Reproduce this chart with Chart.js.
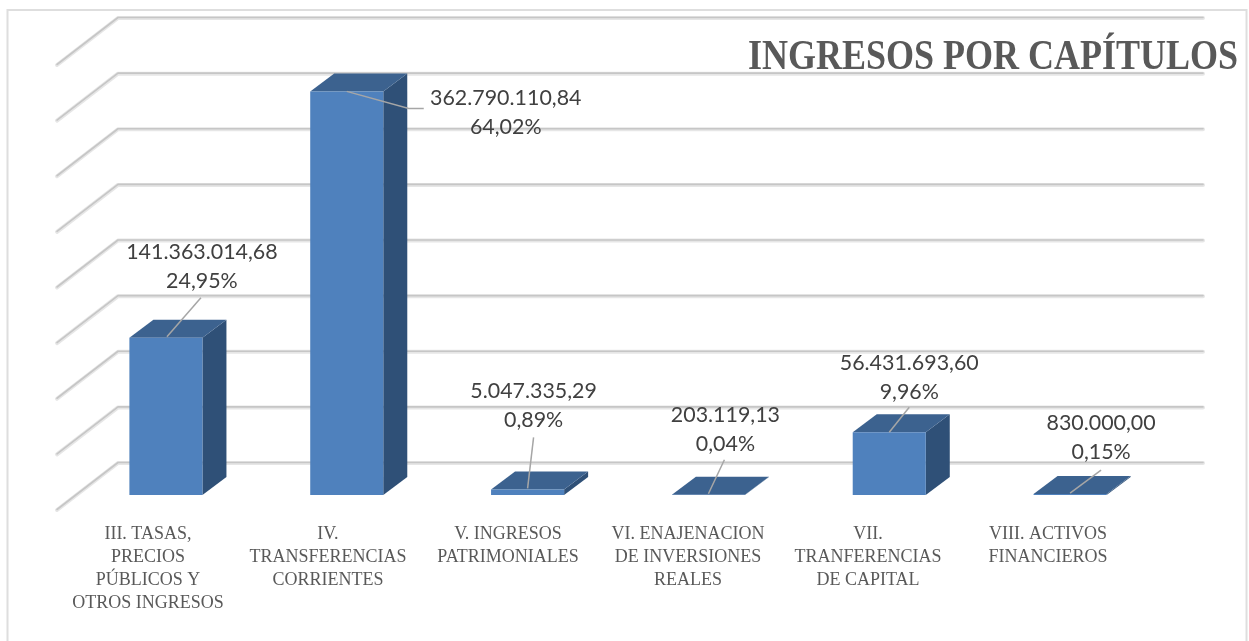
<!DOCTYPE html>
<html><head><meta charset="utf-8">
<script src="https://cdn.jsdelivr.net/npm/chart.js@4"></script>
<style>html,body{margin:0;padding:0;background:#fff}canvas{display:block}</style>
</head><body><canvas id="c" width="1249" height="641"></canvas>
<script>
const categories = [
  ["III. TASAS,","PRECIOS","PÚBLICOS Y","OTROS INGRESOS"],
  ["IV.","TRANSFERENCIAS","CORRIENTES"],
  ["V. INGRESOS","PATRIMONIALES"],
  ["VI. ENAJENACION","DE INVERSIONES","REALES"],
  ["VII.","TRANFERENCIAS","DE CAPITAL"],
  ["VIII. ACTIVOS","FINANCIEROS"]
];
const values = [141363014.68, 362790110.84, 5047335.29, 203119.13, 56431693.60, 830000.00];
const valueLabels = ["141.363.014,68","362.790.110,84","5.047.335,29","203.119,13","56.431.693,60","830.000,00"];
const percentLabels = ["24,95%","64,02%","0,89%","0,04%","9,96%","0,15%"];
const titleText = "INGRESOS POR CAPÍTULOS";

// scene layout
const BAR_DX = 24, BAR_DY = -18;        // bar depth
const WALL_DX = 42.5, WALL_DY = -32;    // bar front plane -> back wall
const FLOOR_DX = 61, FLOOR_DY = 47;     // back wall -> front edge of floor lines
const FRONT='#4f81bd', TOP='#3c628f', SIDE='#2f5077';
// label placement relative to the bar's top-centre: text centre x, line baselines, leader
const labelPlace = [
  {tx:36, ty:-79, l:[[1,-1],[35,-40]]},
  {tx:159,ty:14,  l:[[0,0],[62,17],[77,17]]},
  {tx:6,  ty:-91, l:[[0,-1],[6,-52]]},
  {tx:17, ty:-73, l:[[0,-1],[16,-35]]},
  {tx:20, ty:-62, l:[[0,0],[20,-25]]},
  {tx:31, ty:-64, l:[[0,-1],[31,-24]]}
];

const scene = {
  id:'scene',
  beforeDraw(chart){
    const {ctx,scales:{x,y},chartArea:a}=chart;
    // the axis labels sit on a slightly tighter pitch than the bars
    x.getLabelItems().forEach((it,i)=>{
      if(!it.tightened){it.options.translation[0]-=i*0.8;it.tightened=true;}
    });
    ctx.save();
    ctx.fillStyle='#fff';ctx.fillRect(0,0,chart.width,chart.height);
    ctx.strokeStyle='#dedede';ctx.lineWidth=2;
    ctx.strokeRect(7.5,10,1239,640);
    const x0=a.left+WALL_DX, x1=a.right+WALL_DX;
    ctx.lineCap='round';ctx.lineJoin='round';
    y.ticks.forEach(t=>{
      const py=y.getPixelForValue(t.value)+WALL_DY;
      [[4,'#e6e6e6',0],[1.6,'#c6c6c6',-0.5]].forEach(([w,c,o])=>{
        ctx.lineWidth=w;ctx.strokeStyle=c;
        ctx.beginPath();
        ctx.moveTo(x0-FLOOR_DX,py+FLOOR_DY+o);
        ctx.lineTo(x0,py+o);
        ctx.lineTo(x1,py+o);
        ctx.stroke();
      });
    });
    ctx.restore();
  },
  beforeDatasetsDraw(chart){
    const {ctx}=chart;
    ctx.save();
    chart.getDatasetMeta(0).data.forEach(b=>{
      const l=b.x-b.width/2,r=b.x+b.width/2,t=b.y,bt=b.base;
      ctx.fillStyle=SIDE;
      ctx.beginPath();ctx.moveTo(r,t);ctx.lineTo(r+BAR_DX,t+BAR_DY);ctx.lineTo(r+BAR_DX,bt+BAR_DY);ctx.lineTo(r,bt);ctx.closePath();ctx.fill();
      ctx.fillStyle=TOP;
      ctx.beginPath();ctx.moveTo(l,t);ctx.lineTo(l+BAR_DX,t+BAR_DY);ctx.lineTo(r+BAR_DX,t+BAR_DY);ctx.lineTo(r,t);ctx.closePath();ctx.fill();
    });
    ctx.restore();
  },
  afterDatasetsDraw(chart){
    const {ctx}=chart;
    ctx.save();
    ctx.font='21.4px Lato';ctx.fillStyle='#404040';ctx.textAlign='center';ctx.textBaseline='alphabetic';
    chart.getDatasetMeta(0).data.forEach((b,i)=>{
      const p=labelPlace[i];
      ctx.strokeStyle='#a6a6a6';ctx.lineWidth=1.5;
      ctx.beginPath();
      p.l.forEach(([dx,dy],k)=>{k?ctx.lineTo(b.x+dx,b.y+dy):ctx.moveTo(b.x+dx,b.y+dy);});
      ctx.stroke();
      ctx.fillText(valueLabels[i],b.x+p.tx,b.y+p.ty);
      ctx.fillText(percentLabels[i],b.x+p.tx,b.y+p.ty+29);
    });
    ctx.restore();
  }
};

new Chart(document.getElementById('c'),{
  type:'bar',
  data:{labels:categories,datasets:[{data:values,backgroundColor:FRONT,barPercentage:0.404,categoryPercentage:1}]},
  options:{
    responsive:false,animation:false,
    layout:{padding:{left:75.5,right:88.5,top:50,bottom:16}},
    plugins:{
      legend:{display:false},tooltip:{enabled:false},
      title:{display:false}
    },
    scales:{
      x:{
        grid:{display:false},border:{display:false},
        afterFit(s){s.height=130;},
        ticks:{maxRotation:0,minRotation:0,autoSkip:false,labelOffset:-18,padding:20,color:'#595959',
          font:{family:'"Liberation Serif"',size:18,lineHeight:1.278}}
      },
      y:{
        min:0,max:400000000,
        grid:{display:false},border:{display:false},
        afterFit(s){s.width=0;},
        ticks:{stepSize:50000000,display:false}
      }
    }
  },
  plugins:[scene,{id:'titleText',afterDraw(chart){
    const {ctx}=chart;ctx.save();
    ctx.font='bold 42px "Liberation Serif"';ctx.fillStyle='#595959';ctx.textAlign='right';ctx.textBaseline='alphabetic';
    ctx.translate(1238,69);ctx.scale(0.857,1);
    ctx.fillText(titleText,0,0);ctx.restore();
  }}]
});
</script></body></html>
